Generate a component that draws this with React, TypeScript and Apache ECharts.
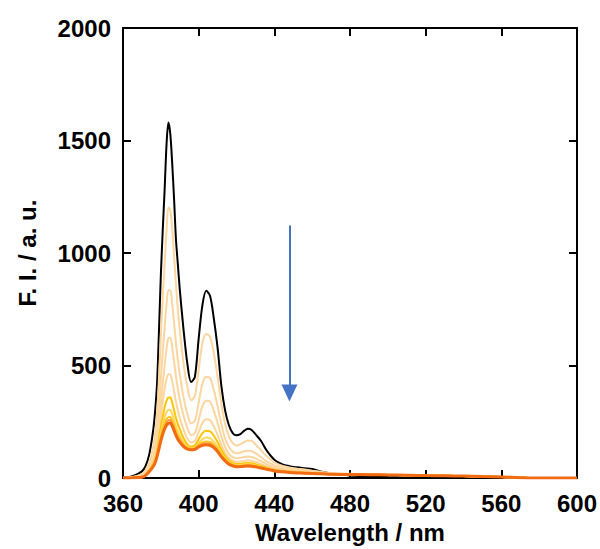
import React, { useEffect, useRef } from "react";
import * as echarts from "echarts";

// Emission wavelengths (nm) shared by every spectrum
const wavelengths = [
  360, 365, 370, 372, 374,
  376, 377, 378, 379, 380,
  381, 382, 383, 384, 385,
  386, 387, 388, 389, 390,
  392, 394, 396, 398, 400,
  402, 404, 406, 408, 410,
  412, 414, 416, 418, 420,
  422, 424, 426, 428, 430,
  433, 436, 440, 444, 448,
  452, 456, 460, 465, 470,
  480, 490, 500, 510, 520,
  530, 540, 550, 560, 570,
  580, 590, 600,
];

// Initial spectrum (black)
const spectrum0 = [
  3, 8, 30, 55, 110,
  215, 300, 420, 650, 900,
  1100, 1280, 1480, 1580, 1530,
  1400, 1240, 1060, 950, 840,
  660, 510, 427, 450, 620,
  770, 832, 810, 710, 580,
  410, 300, 235, 200, 190,
  195, 210, 219, 214, 195,
  165, 122, 82, 62, 53,
  48, 44, 40, 28, 21,
  12, 8, 5, 3, 2,
  1, 0, 0, 0, 0,
  0, 0, 0,
];

const spectrum1 = [
  2, 5, 18, 35, 70,
  140, 200, 285, 440, 630,
  800, 950, 1100, 1203, 1190,
  1110, 985, 860, 750, 660,
  510, 405, 346, 365, 480,
  600, 640, 628, 555, 450,
  330, 240, 185, 155, 145,
  150, 160, 167, 165, 150,
  124, 97, 70, 55, 47,
  42, 38, 33, 27, 23,
  19, 17, 15, 13, 12,
  10, 9, 7, 5, 2,
  0, 0, 0,
];

const spectrum2 = [
  1, 4, 13, 25, 50,
  98, 140, 200, 305, 440,
  560, 665, 770, 835, 835,
  775, 690, 600, 525, 462,
  360, 285, 243, 255, 335,
  420, 450, 445, 392, 320,
  240, 175, 138, 117, 110,
  113, 119, 122, 120, 111,
  93, 74, 56, 45, 39,
  35, 32, 28, 24, 21,
  18, 16, 14, 13, 11,
  10, 9, 7, 5, 2,
  0, 0, 0,
];

const spectrum3 = [
  1, 3, 10, 19, 38,
  75, 106, 150, 228, 330,
  420, 498, 575, 622, 624,
  580, 518, 452, 396, 350,
  278, 222, 192, 200, 258,
  320, 344, 340, 300, 246,
  185, 138, 108, 93, 88,
  90, 94, 96, 94, 88,
  75, 61, 47, 39, 34,
  31, 28, 26, 23, 20,
  17, 15, 14, 13, 11,
  10, 9, 7, 5, 2,
  0, 0, 0,
];

const spectrum4 = [
  1, 2, 7, 16, 38,
  68, 93, 132, 195, 272,
  340, 395, 440, 462, 461,
  430, 386, 340, 300, 268,
  215, 176, 158, 165, 204,
  245, 261, 258, 230, 192,
  148, 113, 90, 78, 73,
  74, 77, 78, 77, 72,
  62, 52, 41, 35, 31,
  28, 26, 24, 21, 19,
  17, 15, 14, 13, 11,
  10, 9, 7, 5, 2,
  0, 0, 0,
];

const spectrum5 = [
  0, 2, 6, 15, 36,
  64, 86, 121, 172, 225,
  272, 315, 343, 358, 358,
  336, 303, 268, 240, 218,
  178, 150, 140, 146, 173,
  200, 210, 208, 188, 160,
  126, 98, 79, 68, 63,
  64, 66, 67, 66, 62,
  54, 46, 37, 32, 29,
  26, 24, 22, 20, 18,
  16, 15, 14, 13, 11,
  10, 9, 7, 5, 2,
  0, 0, 0,
];

const spectrum6 = [
  0, 1, 5, 14, 34,
  60, 78, 110, 155, 200,
  240, 271, 293, 303, 303,
  285, 258, 230, 207, 190,
  160, 140, 133, 137, 156,
  173, 180, 178, 162, 140,
  112, 88, 72, 62, 57,
  58, 60, 61, 60, 56,
  50, 43, 35, 30, 27,
  25, 23, 21, 19, 18,
  16, 15, 14, 13, 11,
  10, 9, 7, 5, 2,
  0, 0, 0,
];

const spectrum7 = [
  0, 1, 4, 13, 32,
  57, 74, 104, 143, 183,
  218, 244, 262, 271, 272,
  256, 233, 209, 190, 175,
  150, 135, 130, 133, 148,
  159, 163, 161, 148, 129,
  104, 83, 68, 59, 54,
  55, 57, 58, 57, 54,
  48, 41, 34, 29, 26,
  24, 22, 21, 19, 17,
  16, 15, 14, 13, 11,
  10, 9, 7, 5, 2,
  0, 0, 0,
];

const spectrum8 = [
  0, 1, 4, 12, 31,
  55, 71, 100, 137, 174,
  206, 230, 248, 258, 259,
  244, 222, 200, 182, 168,
  145, 132, 128, 131, 143,
  152, 155, 153, 141, 123,
  99, 79, 65, 56, 52,
  53, 55, 56, 55, 52,
  46, 40, 33, 28, 26,
  24, 22, 20, 19, 17,
  16, 15, 14, 13, 11,
  10, 9, 7, 5, 2,
  0, 0, 0,
];

// Final spectrum (thick orange)
const spectrum9 = [
  0, 1, 4, 12, 30,
  52, 68, 95, 130, 165,
  195, 218, 235, 244, 246,
  232, 211, 190, 173, 160,
  140, 129, 126, 128, 138,
  146, 148, 146, 135, 118,
  95, 76, 62, 54, 50,
  51, 53, 54, 53, 50,
  45, 39, 32, 28, 25,
  23, 22, 20, 19, 17,
  16, 15, 14, 13, 11,
  10, 9, 7, 5, 2,
  0, 0, 0,
];

const spectra = [
  spectrum0, spectrum1, spectrum2, spectrum3, spectrum4,
  spectrum5, spectrum6, spectrum7, spectrum8, spectrum9,
];
const lineColors = [
  "#000000", "#FDD59E", "#FDD59E", "#FDD59E", "#FDD59E",
  "#FFC400", "#FFD75A", "#FFC61A", "#F8A447", "#F26B12",
];
const lineWidths = [2, 2, 2, 2, 2, 2, 2, 2, 2, 3];

// Arrow marking the decrease in intensity: [wavelength, intensity]
const arrowStart = [448, 1122];
const arrowEnd = [448, 378];

const xTicks = { min: 360, max: 600, interval: 40 };
const yTicks = { min: 0, max: 2000, interval: 500 };

const FONT = "'Liberation Sans', Arial, sans-serif";

export default function App() {
  const ref = useRef<HTMLDivElement>(null);

  useEffect(() => {
    document.body.style.margin = "0";
    if (!ref.current) return;
    const chart = echarts.init(ref.current, undefined, { renderer: "svg" });

    const axisLine = { show: true, onZero: false, lineStyle: { color: "#000", width: 2 } };
    const axisTick = { show: true, inside: true, length: 8, lineStyle: { color: "#000", width: 2 } };
    const labelStyle = { color: "#000", fontSize: 24, fontWeight: "bold" as const, fontFamily: FONT };
    const plain = (v: number) => String(v);

    const series: any[] = [];
    // draw back to front: black first, orange last
    spectra.forEach((values, k) => {
      series.push({
        type: "line",
        name: "s" + k,
        data: wavelengths.map((w, i) => [w, values[i]]),
        showSymbol: false,
        symbol: "none",
        smooth: 0.3,
        lineStyle: { color: lineColors[k], width: lineWidths[k] },
        silent: true,
        z: 2 + k,
        markLine:
          k === 0
            ? {
                silent: true,
                symbol: ["none", "triangle"],
                symbolSize: [16, 17],
                label: { show: false },
                lineStyle: { color: "#4472C4", width: 2, type: "solid" },
                data: [[{ coord: arrowStart }, { coord: arrowEnd }]],
              }
            : undefined,
      });
    });

    chart.setOption({
      animation: false,
      grid: { left: 123, right: 23, top: 28, bottom: 67, containLabel: false },
      xAxis: [
        {
          type: "value",
          position: "bottom",
          ...xTicks,
          axisLine,
          axisTick,
          axisLabel: { ...labelStyle, margin: 13, formatter: plain },
          splitLine: { show: false },
          name: "Wavelength / nm",
          nameLocation: "middle",
          nameGap: 40,
          nameTextStyle: labelStyle,
        },
        {
          type: "value",
          position: "top",
          ...xTicks,
          axisLine,
          axisTick,
          axisLabel: { show: false },
          splitLine: { show: false },
        },
      ],
      yAxis: [
        {
          type: "value",
          position: "left",
          ...yTicks,
          axisLine,
          axisTick,
          axisLabel: { ...labelStyle, margin: 12, formatter: plain },
          splitLine: { show: false },
          name: "F. I. / a. u.",
          nameLocation: "middle",
          nameGap: 84,
          nameTextStyle: labelStyle,
        },
        {
          type: "value",
          position: "right",
          ...yTicks,
          axisLine,
          axisTick,
          axisLabel: { show: false },
          splitLine: { show: false },
        },
      ],
      series,
    });

    return () => chart.dispose();
  }, []);

  return <div ref={ref} style={{ width: 600, height: 549 }} />;
}
